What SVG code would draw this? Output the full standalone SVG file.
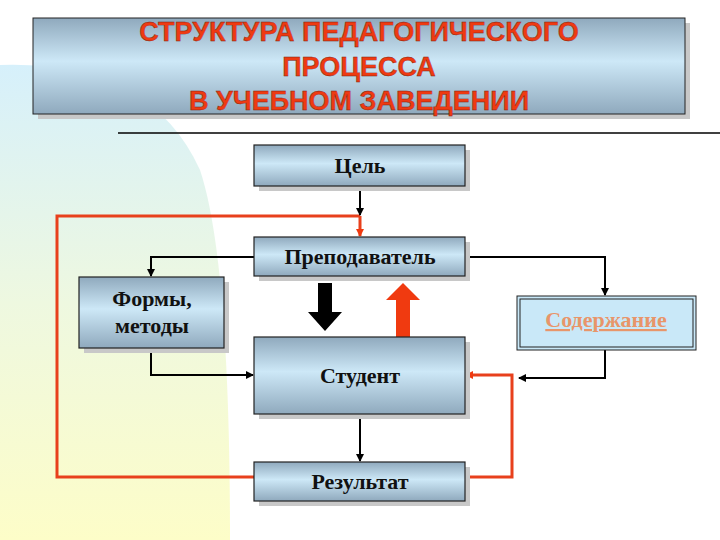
<svg xmlns="http://www.w3.org/2000/svg" width="720" height="540" viewBox="0 0 720 540">
<defs>
<linearGradient id="box" x1="0" y1="0" x2="0" y2="1">
<stop offset="0" stop-color="#8fa9bd"/><stop offset="0.45" stop-color="#cde8f7"/><stop offset="1" stop-color="#8fa9bd"/>
</linearGradient>
<linearGradient id="bg" x1="0" y1="0" x2="0" y2="1">
<stop offset="0" stop-color="#d6f0fb"/><stop offset="0.5" stop-color="#eef8e0"/><stop offset="1" stop-color="#fdfdc8"/>
</linearGradient>
<marker id="ab" markerWidth="8" markerHeight="8" refX="7" refY="4" orient="auto" markerUnits="userSpaceOnUse"><path d="M0,0 L8,4 L0,8 Z" fill="#000"/></marker>
<marker id="ar" markerWidth="8" markerHeight="8" refX="7" refY="4" orient="auto" markerUnits="userSpaceOnUse"><path d="M0,0 L8,4 L0,8 Z" fill="#f03a10"/></marker>
</defs>
<style>
.b{fill:url(#box);stroke:#222;stroke-width:1.2}
.sh{fill:#c8c8c8}
.t{font-family:"Liberation Serif",serif;font-weight:bold;font-size:22px;fill:#111;text-anchor:middle}
.k{fill:none;stroke:#000;stroke-width:2}
.r{fill:none;stroke:#e8401c;stroke-width:3}
</style>
<rect width="720" height="540" fill="#fff"/>
<path d="M0,65 Q150,60 200,170 Q230,260 230,540 L0,540 Z" fill="url(#bg)"/>
<g id="title">
<rect class="sh" x="38" y="23" width="652" height="96"/>
<rect x="33" y="18" width="652" height="96" fill="url(#box)" stroke="#222"/>
<g font-family="Liberation Sans,sans-serif" font-weight="bold" font-size="27" fill="#ee3a12" text-anchor="middle" stroke="#7a2010" stroke-width="0.4">
<text x="359" y="41">СТРУКТУРА ПЕДАГОГИЧЕСКОГО</text>
<text x="359" y="76">ПРОЦЕССА</text>
<text x="359" y="110">В УЧЕБНОМ ЗАВЕДЕНИИ</text>
</g>
</g>
<line x1="118" y1="133" x2="720" y2="133" stroke="#000" stroke-width="1.5"/>
<g id="connectors">
<polyline class="r" points="254,477 57,477 57,216 360,216"/>
<line class="r" x1="360" y1="216" x2="360" y2="236" stroke-width="2" marker-end="url(#ar)"/>
<line class="k" x1="360" y1="186" x2="360" y2="215" stroke-width="2.5" marker-end="url(#ab)"/>
<polyline class="k" points="254,257 151,257 151,276" marker-end="url(#ab)"/>
<polyline class="k" stroke-width="3.5" points="465,257 605,257 605,295" marker-end="url(#ab)"/>
<polyline class="k" points="151,348 151,375 253,375" marker-end="url(#ab)"/>
<polyline class="k" points="605,350 605,378 519,378" marker-end="url(#ab)"/>
<polyline class="r" points="465,477 512,477 512,375 466,375" marker-end="url(#ar)"/>
<line class="k" x1="360" y1="414" x2="360" y2="461" marker-end="url(#ab)"/>
<path d="M318,283 H332 V312 H342 L325,331 L308,312 H318 Z" fill="#000"/>
<path d="M396,355 H410 V300 H420 L403,283 L386,300 H396 Z" fill="#f03a10"/>
</g>
<g id="goal"><rect class="sh" x="259" y="150" width="211" height="41"/><rect class="b" x="254" y="145" width="211" height="41"/><text class="t" x="360" y="173">Цель</text></g>
<g id="teacher"><rect class="sh" x="259" y="242" width="211" height="39"/><rect class="b" x="254" y="237" width="211" height="39"/><text class="t" x="360" y="264">Преподаватель</text></g>
<g id="forms"><rect class="sh" x="84" y="282" width="145" height="71"/><rect class="b" x="79" y="277" width="145" height="71"/><text class="t" x="152" y="306">Формы,</text><text class="t" x="152" y="333">методы</text></g>
<g id="content"><rect x="517" y="296" width="179" height="54" fill="#c9e8f8" stroke="#222"/><rect x="520" y="299" width="173" height="48" fill="none" stroke="#222"/><text x="606" y="327" font-family="Liberation Serif,serif" font-weight="bold" font-size="22" fill="#e8956a" text-anchor="middle" text-decoration="underline">Содержание</text></g>
<g id="student"><rect class="sh" x="259" y="342" width="211" height="77"/><rect class="b" x="254" y="337" width="211" height="77"/><text class="t" x="360" y="383">Студент</text></g>
<g id="result"><rect class="sh" x="259" y="467" width="211" height="39"/><rect class="b" x="254" y="462" width="211" height="39"/><text class="t" x="360" y="489">Результат</text></g>
</svg>
